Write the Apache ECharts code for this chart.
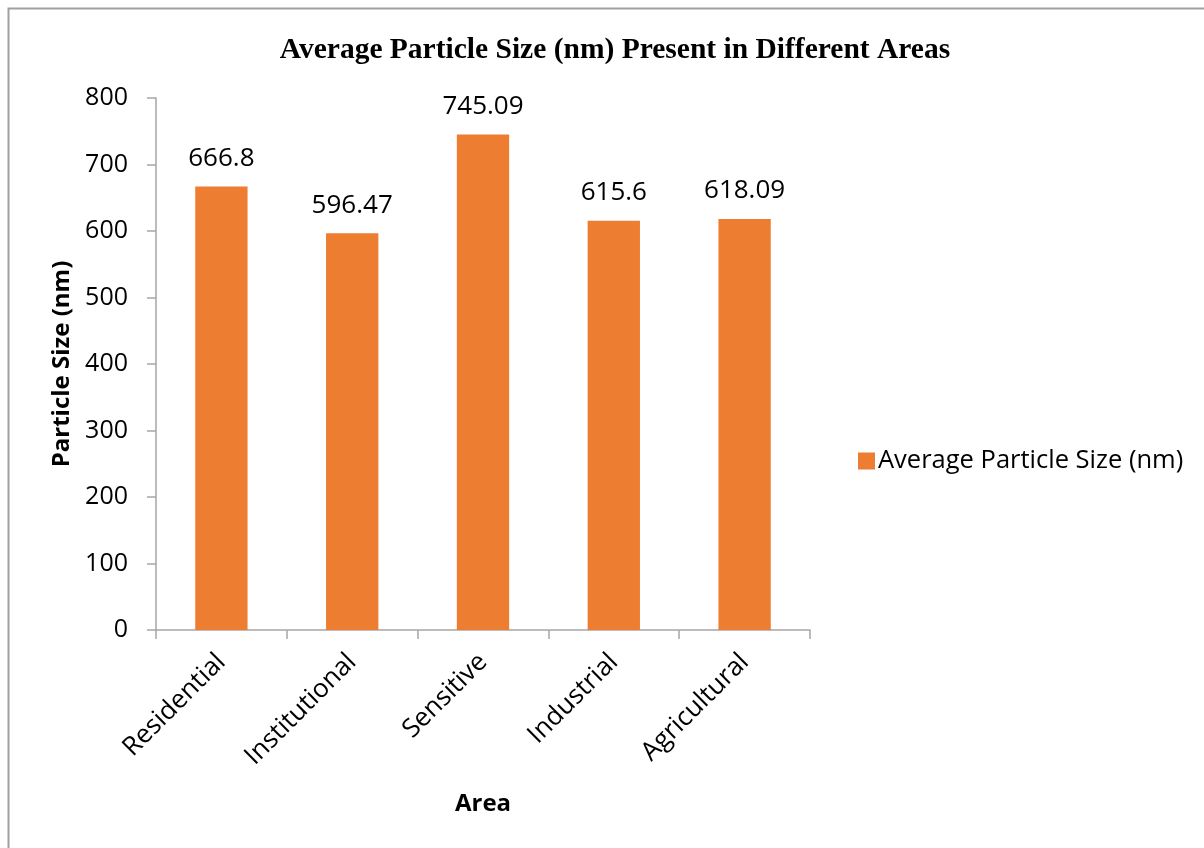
<!DOCTYPE html>
<html>
<head>
<meta charset="utf-8">
<script src="https://cdn.jsdelivr.net/npm/echarts@6/dist/echarts.min.js"></script>
<style>
  html, body { margin: 0; padding: 0; background: #ffffff; }
  #chart { width: 1204px; height: 848px; }
</style>
</head>
<body>
<div id="chart"></div>
<script>
// Average particle size by area type
const areas = ['Residential', 'Institutional', 'Sensitive', 'Industrial', 'Agricultural'];
const particleSize = [666.8, 596.47, 745.09, 615.6, 618.09];
const seriesName = 'Average Particle Size (nm)';

const labelFont = '"Open Sans", "DejaVu Sans", sans-serif';
const axisGray = '#a6a6a6';

const chart = echarts.init(document.getElementById('chart'), null, { renderer: 'canvas' });

chart.setOption({
  backgroundColor: '#ffffff',
  animation: false,
  title: {
    text: 'Average Particle Size (nm) Present in Different Areas',
    left: 610,
    top: 30,
    textAlign: 'center',
    textStyle: {
      fontFamily: '"Liberation Serif", "Times New Roman", serif',
      fontWeight: 'bold',
      fontSize: 29.5,
      color: '#000000'
    }
  },
  graphic: [{
    type: 'rect',
    shape: { x: 8.5, y: 8.5, width: 1300, height: 1000 },
    style: { fill: 'none', stroke: '#a0a0a0', lineWidth: 2 },
    silent: true,
    z: -1
  }],
  legend: {
    data: [seriesName],
    left: 853,
    top: 443,
    itemWidth: 17,
    itemHeight: 17,
    itemGap: 0,
    icon: 'rect',
    textStyle: {
      fontFamily: labelFont,
      fontSize: 25.5,
      color: '#000000',
      padding: [0, 0, 0, -2]
    }
  },
  grid: {
    left: 156,
    right: 394,
    top: 98,
    bottom: 218,
    containLabel: false
  },
  xAxis: {
    type: 'category',
    data: areas,
    name: 'Area',
    nameLocation: 'middle',
    nameGap: 162,
    nameTextStyle: {
      fontFamily: labelFont,
      fontWeight: 'bold',
      fontSize: 24,
      color: '#000000'
    },
    axisLine: { lineStyle: { color: axisGray, width: 1.5 } },
    axisTick: { show: true, length: 9, alignWithLabel: false, lineStyle: { color: axisGray, width: 1.5 } },
    axisLabel: {
      rotate: 45,
      margin: 28,
      fontFamily: labelFont,
      fontSize: 26,
      color: '#000000'
    }
  },
  yAxis: {
    type: 'value',
    min: 0,
    max: 800,
    interval: 100,
    name: 'Particle Size (nm)',
    nameLocation: 'middle',
    nameGap: 82,
    nameTextStyle: {
      fontFamily: labelFont,
      fontWeight: 'bold',
      fontSize: 24,
      color: '#000000'
    },
    axisLine: { show: true, lineStyle: { color: axisGray, width: 1.5 } },
    axisTick: { show: true, length: 9, lineStyle: { color: axisGray, width: 1.5 } },
    splitLine: { show: false },
    axisLabel: {
      margin: 28,
      fontFamily: labelFont,
      fontSize: 25,
      color: '#000000'
    }
  },
  series: [{
    name: seriesName,
    type: 'bar',
    data: particleSize,
    barWidth: '40%',
    itemStyle: { color: '#ED7D31' },
    label: {
      show: true,
      position: 'top',
      distance: 15,
      fontFamily: labelFont,
      fontSize: 26,
      color: '#000000',
      formatter: p => String(p.value)
    }
  }]
});
</script>
</body>
</html>
